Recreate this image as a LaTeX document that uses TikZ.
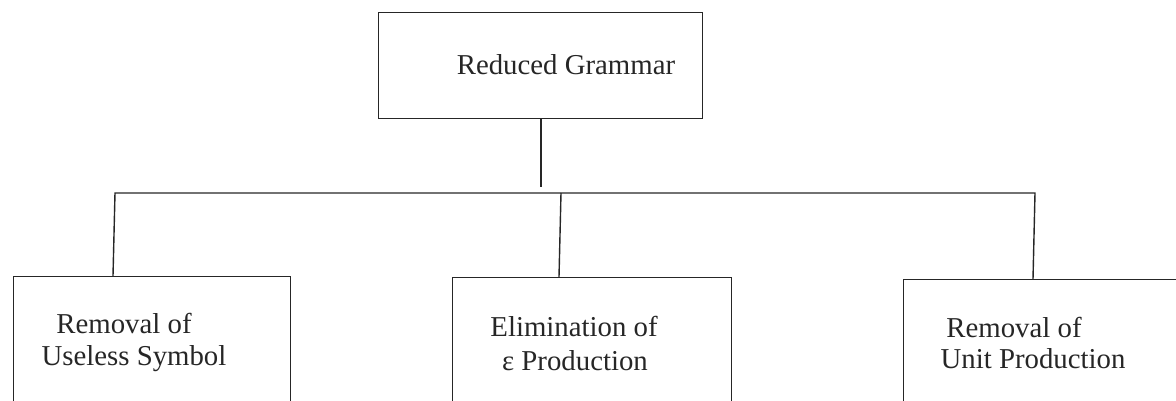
\documentclass[tikz,border=0pt]{standalone}
\usepackage{fontspec}
\setmainfont{Liberation Serif}
\begin{document}
\begin{tikzpicture}[x=1pt,y=-1pt,
  box/.style={draw=black!85, line width=1.4pt, rectangle, inner sep=0pt, anchor=north west},
  lbl/.style={anchor=base, inner sep=0pt, text=black!85, font=\fontsize{28.8}{34}\selectfont},
  conn/.style={draw=black!85, line width=1.4pt}]
\useasboundingbox (0,0) rectangle (1176,401);
\clip (0,0) rectangle (1176,401);
% boxes
\node[box, minimum width=324pt, minimum height=106pt] (top) at (378,12) {};
\node[box, minimum width=277pt, minimum height=160pt] (left) at (13,276) {};
\node[box, minimum width=279pt, minimum height=160pt] (mid) at (452,277) {};
\node[box, minimum width=290pt, minimum height=160pt] (right) at (903,279) {};
% labels
\node[lbl] (t1) at (566,75) {Reduced Grammar};
\node[lbl] (l1) at (124,333) {Removal of};
\node[lbl] (l2) at (134,365) {Useless Symbol};
\node[lbl] (m1) at (574,336) {Elimination of};
\node[lbl] (m2) at (575,370) {ε Production};
\node[lbl] (r1) at (1014,337) {Removal of};
\node[lbl] (r2) at (1033,368) {Unit Production};
% connector points
\coordinate (stem) at (541,187);
\coordinate (hl) at (115,193);
\coordinate (hm) at (561,193);
\coordinate (hr) at (1035,193);
\coordinate (bl) at (113,276);
\coordinate (bm) at (559,277);
\coordinate (br) at (1033,279);
% connectors
\draw[conn] (top.south -| stem) -- (stem);
\draw[conn] (bl) -- (hl) -- (hr) -- (br);
\draw[conn] (hm) -- (bm);
\end{tikzpicture}
\end{document}
